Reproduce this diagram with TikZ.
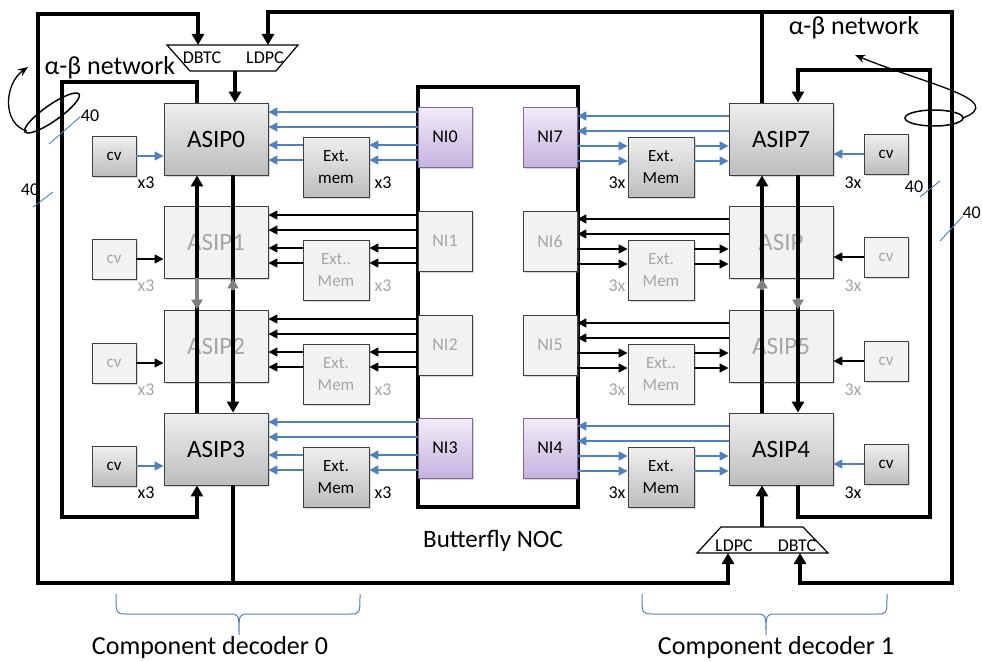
\documentclass[tikz,border=0pt]{standalone}
\usepackage{fontspec}
\setmainfont{Carlito}
\usetikzlibrary{arrows.meta,shadows,calc}
\definecolor{blueA}{HTML}{4F81BD}
\definecolor{gTop}{HTML}{EFEFEF}
\definecolor{gBot}{HTML}{BDBDBD}
\definecolor{pTop}{HTML}{F2EDF9}
\definecolor{pBot}{HTML}{C5B2DE}
\definecolor{pBorder}{HTML}{8064A2}
\definecolor{lgFill}{HTML}{F2F2F2}
\definecolor{lgText}{HTML}{A6A6A6}
\definecolor{bdr}{HTML}{3F3F3F}
\begin{document}
\begin{tikzpicture}[x=1pt,y=-1pt,
 fs/.style={font=\fontsize{#1}{#1}\selectfont},
 shad/.style={drop shadow={shadow xshift=1.6pt,shadow yshift=-1.6pt,opacity=0.3}},
 box/.style={draw=bdr,line width=0.9pt,inner sep=0pt,shad},
 dark/.style={box,top color=gTop,bottom color=gBot},
 light/.style={box,fill=lgFill,text=lgText},
 purp/.style={box,draw=pBorder,top color=pTop,bottom color=pBot},
 asip/.style={minimum width=104pt,minimum height=72pt,fs=25},
 cvb/.style={minimum width=44pt,minimum height=40pt,fs=17},
 memb/.style={minimum width=66pt,minimum height=60pt,align=center,font=\fontsize{17}{22}\selectfont},
 nib/.style={minimum width=54pt,minimum height=60pt,fs=18},
 thk/.style={line width=3.6pt,line join=miter},
 thka/.style={thk,-{Triangle[length=11pt,width=12pt]}},
 graytip/.style={line width=3.6pt,draw=gray,-{Triangle[length=10pt,width=11pt]}},
 ba/.style={draw=blueA,line width=1.6pt,-{Triangle[length=9pt,width=9pt]}},
 ka/.style={draw=black,line width=1.6pt,-{Triangle[length=9pt,width=9pt]}},
 slash/.style={draw=blueA,line width=0.9pt},
 lbl/.style={fs=18,inner sep=0pt},
]
\fill[white] (0,0) rectangle (982,661);
\useasboundingbox (0,0) rectangle (982,661);

% NOC
\node[draw,line width=3.4pt,minimum width=160pt,minimum height=420pt,inner sep=0pt] (noc) at (498,297) {};
\node[fs=25] (noclbl) at (493,541) {Butterfly NOC};

% left column
\node[dark,asip] (a0) at (216,139) {ASIP0};
\node[light,asip] (a1) at (216,242) {ASIP1};
\node[light,asip] (a2) at (216,346) {ASIP2};
\node[dark,asip] (a3) at (216,449) {ASIP3};
\node[dark,cvb] (c0) at (114,156) {cv};
\node[light,cvb] (c1) at (114,259) {cv};
\node[light,cvb] (c2) at (114,363) {cv};
\node[dark,cvb] (c3) at (114,466) {cv};
\node[dark,memb] (m0) at (336,167) {Ext.\\mem};
\node[light,memb] (m1) at (336,270) {Ext..\\Mem};
\node[light,memb] (m2) at (336,374) {Ext.\\Mem};
\node[dark,memb] (m3) at (336,477) {Ext.\\Mem};
\node[purp,nib] (n0) at (445,137) {NI0};
\node[light,nib] (n1) at (445,241) {NI1};
\node[light,nib] (n2) at (445,345) {NI2};
\node[purp,nib] (n3) at (445,448) {NI3};

% right column
\node[dark,asip] (a7) at (781,139) {ASIP7};
\node[light,asip] (a6) at (781,242) {ASIP};
\node[light,asip] (a5) at (781,346) {ASIP5};
\node[dark,asip] (a4) at (781,449) {ASIP4};
\node[dark,cvb] (c7) at (886,154) {cv};
\node[light,cvb] (c6) at (886,257) {cv};
\node[light,cvb] (c5) at (886,361) {cv};
\node[dark,cvb] (c4) at (886,464) {cv};
\node[dark,memb] (m7) at (661,167) {Ext.\\Mem};
\node[light,memb] (m6) at (661,270) {Ext.\\Mem};
\node[light,memb] (m5) at (661,374) {Ext..\\Mem};
\node[dark,memb] (m4) at (661,477) {Ext.\\Mem};
\node[purp,nib] (n7) at (550,137) {NI7};
\node[light,nib] (n6) at (550,241) {NI6};
\node[light,nib] (n5) at (550,345) {NI5};
\node[purp,nib] (n4) at (550,448) {NI4};

% multiplicity labels
\foreach \i/\r/\c in {0/139/black,1/242/lgText,2/346/lgText,3/449/black}{
  \node[lbl,text=\c] (lc\i) at (146,\r+44) {x3};
  \node[lbl,text=\c] (lm\i) at (383,\r+44) {x3};
}
\foreach \i/\r/\c in {7/139/black,6/242/lgText,5/346/lgText,4/449/black}{
  \node[lbl,text=\c] (rc\i) at (853,\r+44) {3x};
  \node[lbl,text=\c] (rm\i) at (617,\r+44) {3x};
}

% row connectors left
\foreach \i/\r/\s in {0/139/ba,1/242/ka,2/346/ka,3/449/ba}{
  \draw[\s] (n\i.west |- 0,\r-27) -- (a\i.east |- 0,\r-27);
  \draw[\s] (n\i.west |- 0,\r-12) -- (a\i.east |- 0,\r-12);
  \draw[\s] (n\i.west |- 0,\r+6) -- (m\i.east |- 0,\r+6);
  \draw[\s] (n\i.west |- 0,\r+21) -- (m\i.east |- 0,\r+21);
  \draw[\s] (m\i.west |- 0,\r+6) -- (a\i.east |- 0,\r+6);
  \draw[\s] (m\i.west |- 0,\r+21) -- (a\i.east |- 0,\r+21);
  \draw[\s] (c\i.east) -- (c\i.east -| a\i.west);
}
% row connectors right
\foreach \i/\r/\s in {7/139/ba,6/242/ka,5/346/ka,4/449/ba}{
  \draw[\s] (a\i.west |- 0,\r-23) -- (n\i.east |- 0,\r-23);
  \draw[\s] (a\i.west |- 0,\r-8) -- (n\i.east |- 0,\r-8);
  \draw[\s] (n\i.east |- 0,\r+7) -- (m\i.west |- 0,\r+7);
  \draw[\s] (n\i.east |- 0,\r+22) -- (m\i.west |- 0,\r+22);
  \draw[\s] (m\i.east |- 0,\r+7) -- (a\i.west |- 0,\r+7);
  \draw[\s] (m\i.east |- 0,\r+22) -- (a\i.west |- 0,\r+22);
  \draw[\s] (c\i.west) -- (c\i.west -| a\i.east);
}

% columns
\coordinate (L1) at (197,0);
\coordinate (L2) at (233,0);
\coordinate (R1) at (762,0);
\coordinate (R2) at (798,0);

% trapezoids
\draw[line width=1.2pt,fill=white] (167,45) -- (298,45) -- (276,71) -- (190,71) -- cycle;
\draw[line width=1.2pt,fill=white] (721,527) -- (803,527) -- (828,553) -- (697,553) -- cycle;
\coordinate (tDBTC) at (198,45);
\coordinate (tLDPC) at (268,45);
\coordinate (tOut) at (235,71);
\coordinate (bLDPC) at (728,553);
\coordinate (bDBTC) at (800,553);
\coordinate (bOut) at (762,527);
\node[fs=18,inner sep=0pt] (tdb) at (202,58) {DBTC};
\node[fs=18,inner sep=0pt] (tld) at (265,58) {LDPC};
\node[fs=18,inner sep=0pt] (bld) at (734,546) {LDPC};
\node[fs=18,inner sep=0pt] (bdb) at (797,546) {DBTC};

% vertical chains
\draw[thka] (a3.north -| L1) -- (a0.south -| L1);
\draw[thka] (a0.south -| L2) -- (a3.north -| L2);
\draw[thka] (a4.north -| R1) -- (a7.south -| R1);
\draw[thka] (a7.south -| R2) -- (a4.north -| R2);
\draw[graytip] (a1.south -| L1) -- (a2.north -| L1);
\draw[graytip] ($(a1.south -| L2)+(0,12)$) -- (a1.south -| L2);
\draw[graytip] ($(a6.south -| R1)+(0,12)$) -- (a6.south -| R1);
\draw[graytip] ($(a5.north -| R2)+(0,-12)$) -- (a5.north -| R2);

% trapezoid outputs
\draw[thka] (tOut) -- (a0.north -| tOut);
\draw[thka] (bOut) -- (a4.south -| bOut);

% inner loops
\coordinate (il1) at (197,82); \coordinate (il2) at (62,82);
\coordinate (il3) at (62,517); \coordinate (il4) at (197,517);
\draw[thka] (a0.north -| L1) -- (il1) -- (il2) -- (il3) -- (il4) -- (a3.south -| L1);
\coordinate (ir1) at (798,517); \coordinate (ir2) at (930,517);
\coordinate (ir3) at (930,70); \coordinate (ir4) at (798,70);
\draw[thka] (a4.south -| R2) -- (ir1) -- (ir2) -- (ir3) -- (ir4) -- (a7.north -| R2);

% outer loops
\coordinate (j1) at (233,583); \coordinate (ol1) at (38,583);
\coordinate (ol2) at (38,14); \coordinate (ol3) at (198,14);
\coordinate (ol4) at (728,583);
\draw[thka] (a3.south -| L2) -- (j1) -- (ol1) -- (ol2) -- (ol3) -- (tDBTC);
\draw[thka] (j1) -- (ol4) -- (bLDPC);
\coordinate (j2) at (762,12); \coordinate (or1) at (268,12);
\coordinate (or2) at (952,12); \coordinate (or3) at (952,583);
\coordinate (or4) at (800,583);
\draw[thka] (a7.north -| R1) -- (j2) -- (or1) -- (tLDPC);
\draw[thka] (j2) -- (or2) -- (or3) -- (or4) -- (bDBTC);

% alpha-beta network
\node[fs=26,inner sep=0pt] (abl) at (110,68) {α-β network};
\node[fs=26,inner sep=0pt] (abr) at (854,28) {α-β network};
\draw[line width=1.5pt,rotate around={35:(52,113)}] (52,113) ellipse [x radius=33pt,y radius=8pt];
\draw[line width=1.3pt,-{Stealth[length=10pt,width=8pt]}] (27,131) .. controls (2,124) and (4,84) .. (28,67);
\draw[line width=1.5pt] (934,118) ellipse [x radius=29pt,y radius=8pt];
\draw[line width=1.3pt,-{Stealth[length=10pt,width=8pt]}] (963,118) .. controls (1008,100) and (925,84) .. (855,55);

% bus widths
\node[lbl] (w1) at (90,116) {40};
\draw[slash] (49,144) -- (80,117);
\node[lbl] (w2) at (30,190) {40};
\draw[slash] (33,207) -- (53,192);
\node[lbl] (w3) at (914,187) {40};
\draw[slash] (920,197) -- (940,181);
\node[lbl,anchor=east] (w4) at (981,213) {40};
\draw[slash] (940,241) -- (963,216);

% braces
\draw[blueA,line width=1pt] (116,594) .. controls (116,614) .. (127,614) -- (229,614)
  .. controls (239,614) .. (239,635) .. controls (239,614) .. (249,614) -- (350,614)
  .. controls (360,614) .. (360,594);
\draw[blueA,line width=1pt] (642,594) .. controls (642,614) .. (653,614) -- (756,614)
  .. controls (766,614) .. (766,635) .. controls (766,614) .. (776,614) -- (877,614)
  .. controls (887,614) .. (887,594);
\node[fs=26,inner sep=0pt] (cd0) at (210,648) {Component decoder 0};
\node[fs=26,inner sep=0pt] (cd1) at (776,648) {Component decoder 1};
\end{tikzpicture}
\end{document}
